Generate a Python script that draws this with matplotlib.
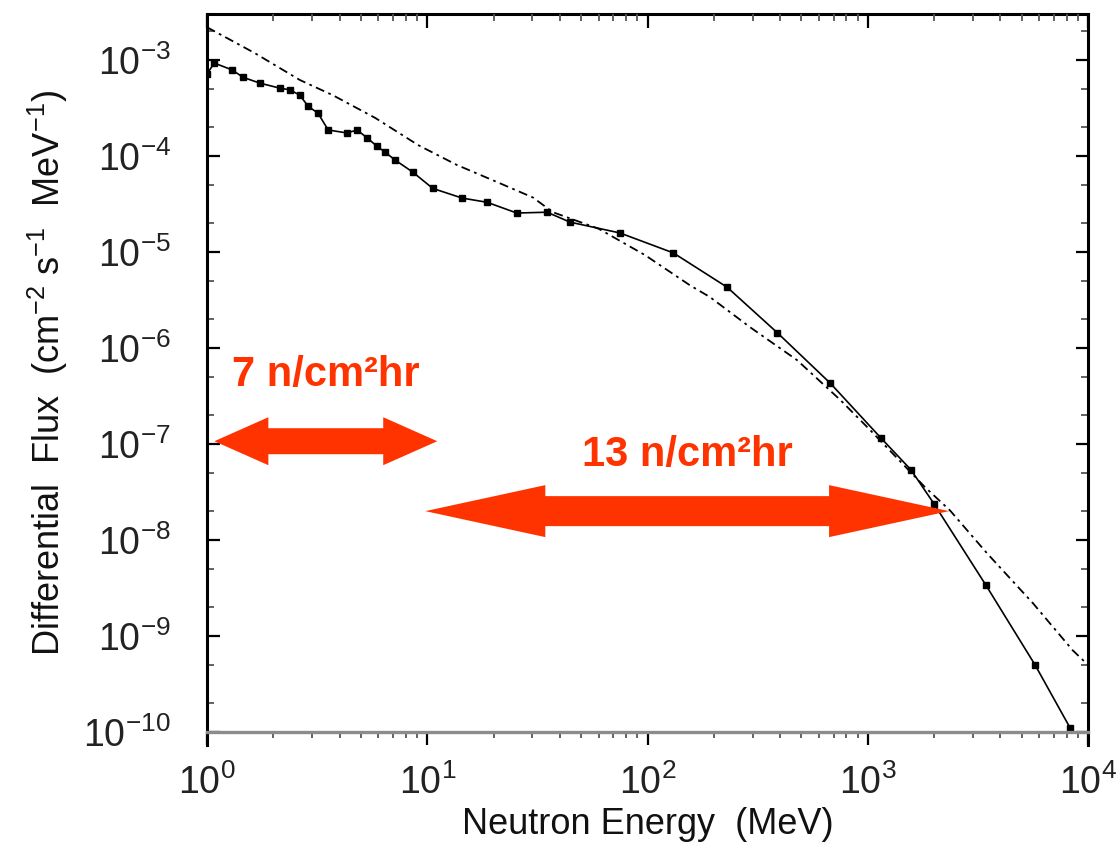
import numpy as np
import matplotlib
matplotlib.use("Agg")
import matplotlib.pyplot as plt
from matplotlib.ticker import LogLocator, NullFormatter
from matplotlib.patches import Polygon
from matplotlib.transforms import IdentityTransform

plt.rcParams['font.family'] = ['Liberation Sans', 'DejaVu Sans']
plt.rcParams['mathtext.fontset'] = 'custom'
plt.rcParams['mathtext.rm'] = 'Liberation Sans'
plt.rcParams['mathtext.it'] = 'Liberation Sans:italic'
plt.rcParams['mathtext.bf'] = 'Liberation Sans:bold'

# measured neutron spectrum (line with dots)
meas_energy = [1.0, 1.08, 1.3, 1.46, 1.74, 2.14, 2.38, 2.64, 2.88, 3.19, 3.55, 4.32,
               4.8, 5.33, 5.9, 6.43, 7.14, 8.6, 10.6, 14.4, 18.7, 25.5, 35, 44.5,
               75, 131, 230, 389, 676, 1150, 1570, 1995, 3435, 5750, 8300]
meas_flux = [7.2e-4, 9.3e-4, 7.9e-4, 6.6e-4, 5.75e-4, 5.1e-4, 4.9e-4, 4.3e-4, 3.3e-4,
             2.8e-4, 1.87e-4, 1.74e-4, 1.87e-4, 1.55e-4, 1.27e-4, 1.1e-4, 9.1e-5,
             6.8e-5, 4.6e-5, 3.65e-5, 3.3e-5, 2.55e-5, 2.6e-5, 2.05e-5, 1.58e-5,
             9.8e-6, 4.3e-6, 1.44e-6, 4.3e-7, 1.15e-7, 5.4e-8, 2.4e-8, 3.4e-9,
             5e-10, 1.1e-10]

# model spectrum (dash-dot)
model_energy = [1.0, 1.65, 2.64, 3.73, 5.8, 9.1, 13.6, 21.4, 30.2, 37.2, 60, 97.4,
                156, 192, 292, 477, 748, 1025, 1820, 2360, 3475, 5620, 8520, 10000]
model_flux = [2.2e-3, 1.18e-3, 6.2e-4, 4.3e-4, 2.5e-4, 1.3e-4, 8.1e-5, 5.2e-5, 3.7e-5,
              2.6e-5, 1.75e-5, 9.3e-6, 4.5e-6, 3.4e-6, 1.65e-6, 7.5e-7, 2.9e-7,
              1.4e-7, 3.55e-8, 2.04e-8, 7.3e-9, 2.2e-9, 7.1e-10, 5e-10]

# energy ranges marked with red arrows
range_lo = [1.08, 9.8]
range_hi = [11.1, 2340]
range_level = [1.07e-7, 2.0e-8]
range_text = ['7 n/cm²hr', '13 n/cm²hr']

red = '#ff3300'

fig = plt.figure(figsize=(11.2, 8.52), dpi=100)
ax = fig.add_axes([207 / 1120, 1 - 732 / 852, 881 / 1120, 718 / 852])

ax.plot(model_energy, model_flux, color='black', lw=1.3,
        linestyle=(0, (5, 2.5, 1.5, 2.5)))
ax.plot(meas_energy, meas_flux, color='black', lw=1.2, marker='s', ms=4.5)

ax.set_xscale('log')
ax.set_yscale('log')
ymin, ymax = 1e-10, 10 ** -2.52
ax.set_xlim(1, 1e4)
ax.set_ylim(ymin, ymax)

ax.xaxis.set_major_locator(LogLocator(base=10, numticks=10))
ax.xaxis.set_minor_locator(LogLocator(base=10, subs=np.arange(2, 10), numticks=40))
ax.xaxis.set_minor_formatter(NullFormatter())
ax.yaxis.set_major_locator(LogLocator(base=10, numticks=20))
ax.yaxis.set_minor_locator(LogLocator(base=10, subs=(2.0, 5.0), numticks=40))
ax.yaxis.set_minor_formatter(NullFormatter())

ax.tick_params(axis='x', which='both', direction='out', top=False, bottom=True)
ax.tick_params(axis='x', which='major', length=9, width=1.6, pad=14,
               labelsize=27, labelcolor='#222222')
ax.tick_params(axis='x', which='minor', length=4, width=1.3, color='#555555')
ax.tick_params(axis='y', which='both', direction='in', left=True, right=True)
ax.tick_params(axis='y', which='major', length=9, width=1.6, pad=26,
               labelsize=27, labelcolor='#222222')
ax.tick_params(axis='y', which='minor', length=5, width=1.3, color='#555555')

# top ticks point inward
top = ax.twiny()
top.set_xscale('log')
top.set_xlim(1, 1e4)
top.xaxis.set_minor_locator(LogLocator(base=10, subs=np.arange(2, 10), numticks=40))
top.tick_params(axis='x', which='both', direction='in', labeltop=False)
top.tick_params(axis='x', which='major', length=10, width=1.6)
top.tick_params(axis='x', which='minor', length=5, width=1.3, color='#555555')
for s in top.spines.values():
    s.set_visible(False)

for side in ['left', 'right', 'top']:
    ax.spines[side].set_linewidth(2.2)
    ax.spines[side].set_color('black')
ax.spines['bottom'].set_linewidth(2.4)
ax.spines['bottom'].set_color('#8c8c8c')
ax.spines['left'].set_bounds(10 ** -10.14, ymax)
ax.spines['right'].set_bounds(10 ** -10.14, ymax)

ax.set_xlabel('Neutron Energy  (MeV)', fontsize=26, color='#111111')
ax.set_ylabel(r'Differential  Flux  (cm$^{-2}$ s$^{-1}$  MeV$^{-1}$)',
              fontsize=26, color='#111111')
ax.xaxis.set_label_coords(0.5, -0.105)
ax.yaxis.set_label_coords(-0.155, 0.5)

# double arrows drawn in pixel space from their data end points
head_len = [54, 120]
head_half = [24, 26]
shaft_half = [13, 15]
text_lift = [66, 56]
for i in range(len(range_lo)):
    x0, y = ax.transData.transform((range_lo[i], range_level[i]))
    x1, _ = ax.transData.transform((range_hi[i], range_level[i]))
    hl, hw, sw = head_len[i], head_half[i], shaft_half[i]
    verts = [(x0, y), (x0 + hl, y + hw), (x0 + hl, y + sw), (x1 - hl, y + sw),
             (x1 - hl, y + hw), (x1, y), (x1 - hl, y - hw), (x1 - hl, y - sw),
             (x0 + hl, y - sw), (x0 + hl, y - hw)]
    ax.add_patch(Polygon(verts, closed=True, facecolor=red, edgecolor='none',
                         transform=IdentityTransform(), clip_on=False, zorder=3))
    mid = np.sqrt(range_lo[i] * range_hi[i])
    ax.annotate(range_text[i], xy=(mid, range_level[i]), xytext=(0, text_lift[i]),
                textcoords='offset pixels', ha='center', va='center',
                fontsize=30, fontweight='bold', color=red)

fig.savefig('out.png', dpi=100)
